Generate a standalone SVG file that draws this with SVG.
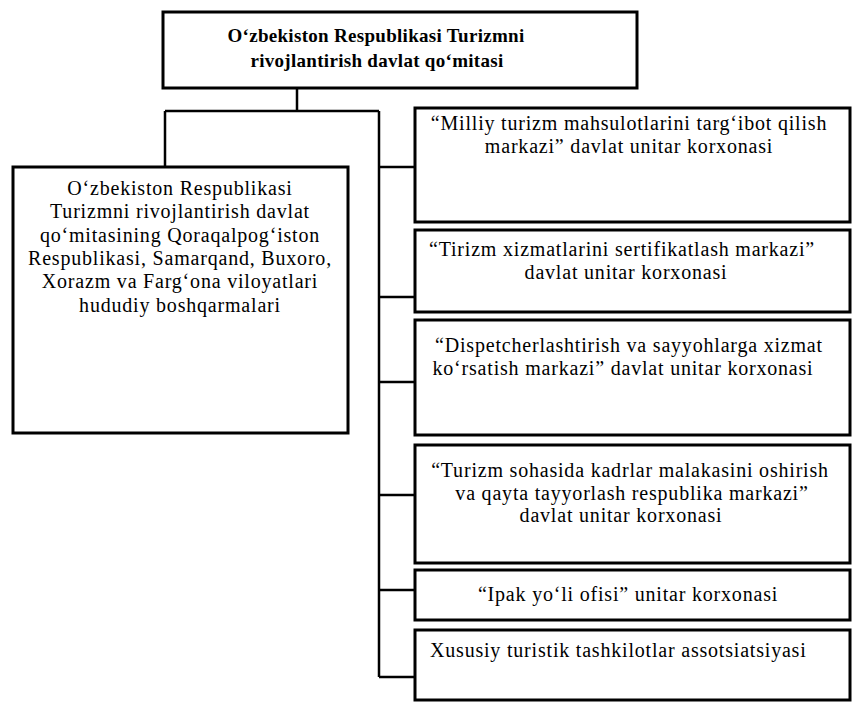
<svg xmlns="http://www.w3.org/2000/svg" width="852" height="703" viewBox="0 0 852 703">
<style>
.box{fill:#fff;stroke:#000;stroke-width:3}
.conn{fill:none;stroke:#000;stroke-width:2.5}
text{font-family:"Liberation Serif","Times New Roman",serif;fill:#000;font-size:20px;letter-spacing:0.8px}
.c{text-anchor:middle}
.b{font-weight:bold;font-size:19px;letter-spacing:0.3px}
</style>
<rect width="852" height="703" fill="#fff"/>
<g id="connectors">
<path class="conn" d="M297,88 V111 M165,111 H379 M165,111 V167 M379,111 V677"/>
<path class="conn" d="M379,167 H415 M379,297 H415 M379,382 H415 M379,495 H415 M379,590 H415 M379,677 H415"/>
</g>
<g id="n0">
<rect class="box" x="163" y="12" width="474" height="76"/>
<text class="c b" x="376" y="42">O‘zbekiston Respublikasi Turizmni</text>
<text class="c b" x="377" y="67">rivojlantirish davlat qo‘mitasi</text>
</g>
<g id="n1">
<rect class="box" x="13" y="167" width="335" height="266"/>
<text class="c" x="180" y="195">O‘zbekiston Respublikasi</text>
<text class="c" x="180" y="218">Turizmni rivojlantirish davlat</text>
<text class="c" x="180" y="242">qo‘mitasining Qoraqalpog‘iston</text>
<text class="c" x="180" y="265">Respublikasi, Samarqand, Buxoro,</text>
<text class="c" x="180" y="288">Xorazm va Farg‘ona viloyatlari</text>
<text class="c" x="180" y="312">hududiy boshqarmalari</text>
</g>
<g id="n2">
<rect class="box" x="415" y="108" width="435" height="114"/>
<text class="c" x="629" y="130">“Milliy turizm mahsulotlarini targ‘ibot qilish</text>
<text class="c" x="629" y="153">markazi” davlat unitar korxonasi</text>
</g>
<g id="n3">
<rect class="box" x="415" y="230" width="435" height="82"/>
<text class="c" x="622" y="256">“Tirizm xizmatlarini sertifikatlash markazi”</text>
<text class="c" x="626" y="279">davlat unitar korxonasi</text>
</g>
<g id="n4">
<rect class="box" x="415" y="320" width="435" height="115"/>
<text class="c" x="629" y="352">“Dispetcherlashtirish va sayyohlarga xizmat</text>
<text class="c" x="623" y="375">ko‘rsatish markazi” davlat unitar korxonasi</text>
</g>
<g id="n5">
<rect class="box" x="415" y="445" width="435" height="118"/>
<text class="c" x="630" y="477">“Turizm sohasida kadrlar malakasini oshirish</text>
<text class="c" x="632" y="500">va qayta tayyorlash respublika markazi”</text>
<text class="c" x="621" y="522">davlat unitar korxonasi</text>
</g>
<g id="n6">
<rect class="box" x="415" y="570" width="435" height="50"/>
<text class="c" x="628" y="601">“Ipak yo‘li ofisi” unitar korxonasi</text>
</g>
<g id="n7">
<rect class="box" x="415" y="630" width="435" height="70"/>
<text x="430" y="657">Xususiy turistik tashkilotlar assotsiatsiyasi</text>
</g>
</svg>
